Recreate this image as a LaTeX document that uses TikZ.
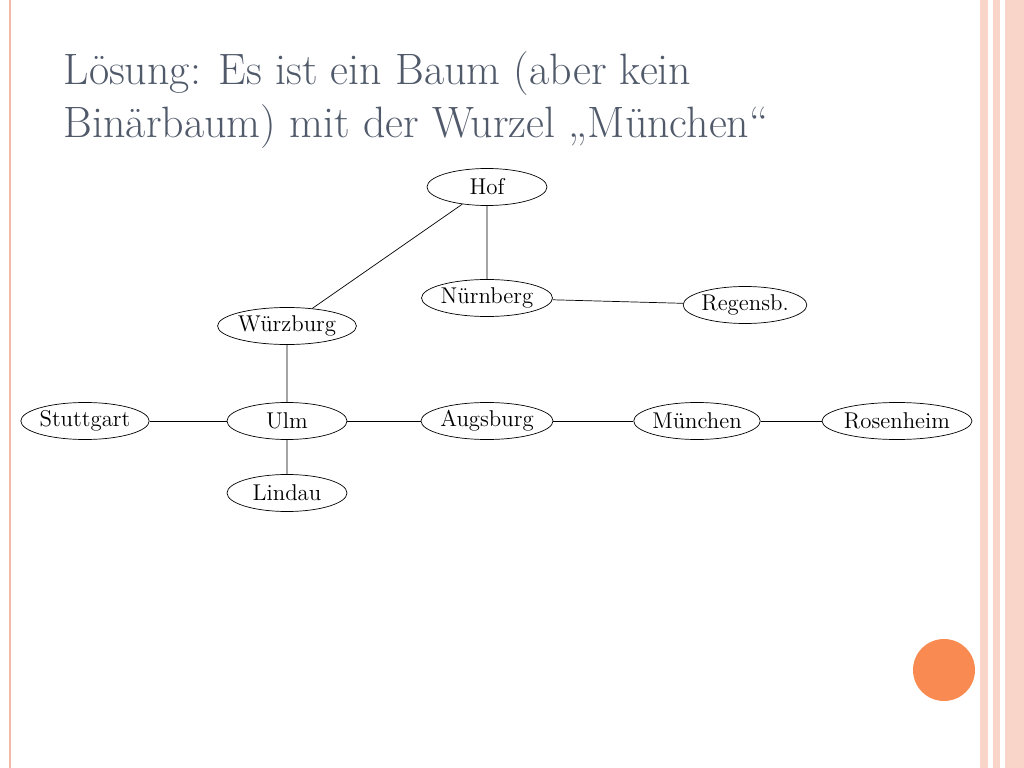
\documentclass[tikz,border=0pt]{standalone}
\usepackage{fontspec}
\usetikzlibrary{shapes.geometric}
\definecolor{titlegray}{HTML}{505A6A}
\definecolor{salmon}{HTML}{F4B9A4}
\definecolor{dot}{HTML}{F98B52}
\begin{document}
\begin{tikzpicture}[thin,
	city/.style = {ellipse,draw,inner sep=0pt,minimum width=2.4cm,minimum height=0.74cm,font=\fontsize{13pt}{15pt}\selectfont}]
	\useasboundingbox (0,0) rectangle (20.48,-15.36);
	% frame
	\draw[salmon,line width=1pt] (0.2,0) -- (0.2,-15.36);
	\fill[salmon!60] (19.6,0) rectangle (20.48,-15.36);
	\fill[white] (19.75,0) rectangle (19.85,-15.36);
	\fill[white] (20.0,0) rectangle (20.1,-15.36);
	\fill[dot] (18.88,-13.4) circle (0.62);
	% title
	\node[anchor=west,text=titlegray,font=\fontsize{25pt}{30pt}\selectfont,align=left] (title) at (1.15,-2.0)
		{Lösung: Es ist ein Baum (aber kein\\Binärbaum) mit der Wurzel „München“};
	% nodes
	\node[city] at (9.74,-3.74) (hof) {Hof};
	\node[city] at (9.74,-5.96) (nbg) {Nürnberg};
	\node[city] at (14.9,-6.1) (rgb) {Regensb.};
	\node[city] at (5.74,-6.52) (wue) {Würzburg};
	\node[city] at (1.7,-8.42) (stg) {Stuttgart};
	\node[city] at (5.74,-8.42) (ulm) {Ulm};
	\node[city] at (9.74,-8.42) (aug) {Augsburg};
	\node[city] at (13.94,-8.42) (muc) {München};
	\node[city] at (17.94,-8.42) (ros) {Rosenheim};
	\node[city] at (5.74,-9.86) (lin) {Lindau};
	% edges
	\draw (hof)--(wue)--(ulm)--(lin);
	\draw (hof)--(nbg)--(rgb);
	\draw (stg)--(ulm)--(aug)--(muc)--(ros);
\end{tikzpicture}
\end{document}
